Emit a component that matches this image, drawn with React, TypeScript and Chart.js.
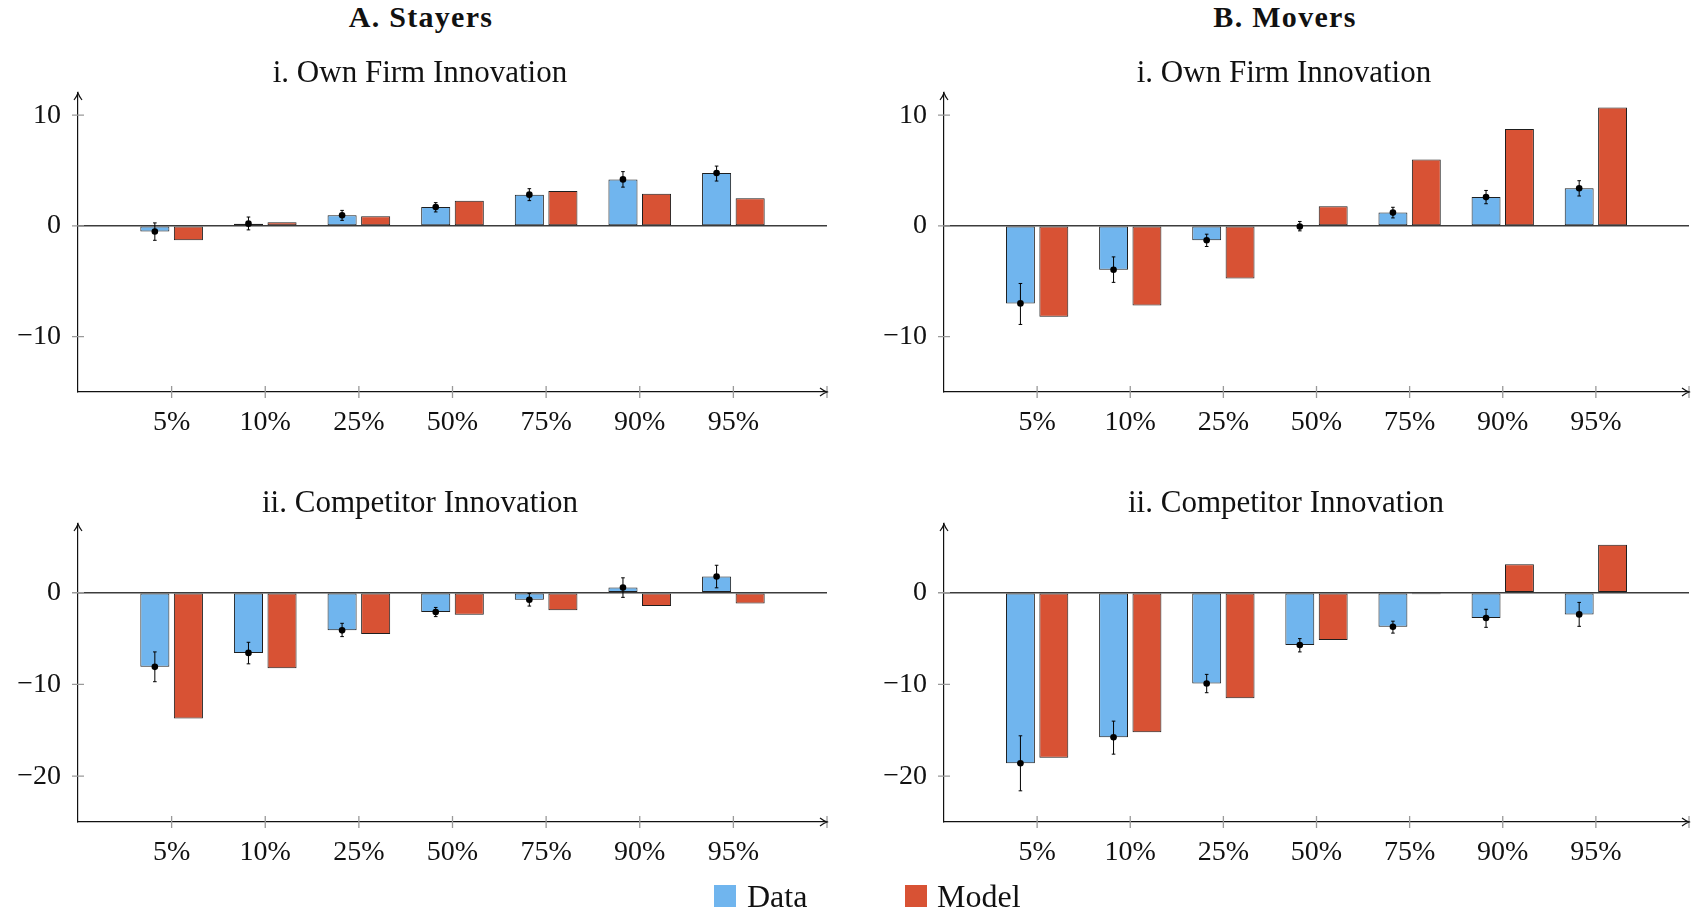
import React, { useEffect, useRef } from "react";
import { Chart, registerables } from "chart.js";

Chart.register(...registerables);

// ---------- data ----------
const CATEGORIES = ["5%", "10%", "25%", "50%", "75%", "90%", "95%"];

const stayersOwnData = [-0.5, 0.2, 0.96, 1.7, 2.82, 4.2, 4.77];
const stayersOwnModel = [-1.3, 0.33, 0.87, 2.28, 3.15, 2.9, 2.5];
const stayersOwnLo = [-1.3, -0.36, 0.5, 1.26, 2.28, 3.5, 4.05];
const stayersOwnHi = [0.27, 0.8, 1.4, 2.1, 3.36, 4.9, 5.4];

const moversOwnData = [-7.0, -3.96, -1.3, -0.05, 1.2, 2.6, 3.4];
const moversOwnModel = [-8.2, -7.2, -4.74, 1.77, 6.0, 8.74, 10.7];
const moversOwnLo = [-8.9, -5.1, -1.86, -0.45, 0.72, 2.0, 2.7];
const moversOwnHi = [-5.2, -2.8, -0.75, 0.4, 1.68, 3.2, 4.08];

const stayersCompData = [-8.08, -6.56, -4.1, -2.1, -0.76, 0.58, 1.78];
const stayersCompModel = [-13.7, -8.22, -4.5, -2.4, -1.92, -1.45, -1.16];
const stayersCompLo = [-9.7, -7.75, -4.78, -2.6, -1.45, -0.5, 0.54];
const stayersCompHi = [-6.45, -5.4, -3.33, -1.6, -0.07, 1.63, 3.0];

const moversCompData = [-18.6, -15.76, -9.9, -5.7, -3.7, -2.75, -2.36];
const moversCompModel = [-18.0, -15.2, -11.5, -5.14, -0.15, 3.1, 5.25];
const moversCompLo = [-21.6, -17.6, -10.9, -6.45, -4.4, -3.77, -3.66];
const moversCompHi = [-15.6, -14.0, -8.9, -5.0, -3.1, -1.8, -1.05];

const OWN_Y_RANGE = [-15, 12];
const COMP_Y_RANGE = [-25, 7.5];

// ---------- styles ----------
const SERIF = "'Liberation Serif', 'Times New Roman', serif";
const BLUE = "#70B5EE";
const RED = "#D85234";
const BAR_EDGE = "#1e1e1e";

const AXIS_LABELS = ["", ...CATEGORIES, ""];
const pad = (a: number[]) => [null, ...a, null];

function makeErrorBars(lo: number[], hi: number[], vals: number[]) {
  return {
    id: "errorbars",
    afterDatasetsDraw(chart: any) {
      const meta = chart.getDatasetMeta(0);
      const ys = chart.scales.y;
      const ctx = chart.ctx;
      ctx.save();
      ctx.strokeStyle = "#000";
      ctx.fillStyle = "#000";
      ctx.lineWidth = 1;
      meta.data.forEach((el: any, i: number) => {
        const k = i - 1;
        if (k < 0 || k >= vals.length) return;
        const x = el.x;
        const yl = ys.getPixelForValue(lo[k]);
        const yh = ys.getPixelForValue(hi[k]);
        const yv = ys.getPixelForValue(vals[k]);
        ctx.beginPath();
        ctx.moveTo(x, yl);
        ctx.lineTo(x, yh);
        ctx.moveTo(x - 1.8, yl);
        ctx.lineTo(x + 1.8, yl);
        ctx.moveTo(x - 1.8, yh);
        ctx.lineTo(x + 1.8, yh);
        ctx.stroke();
        ctx.beginPath();
        ctx.arc(x, yv, 3.3, 0, Math.PI * 2);
        ctx.fill();
      });
      ctx.restore();
    },
  };
}

const axisDecor = {
  id: "axisdecor",
  afterDraw(chart: any) {
    const { ctx, chartArea } = chart;
    const xs = chart.scales.x;
    const ys = chart.scales.y;
    const L = chartArea.left;
    const B = chartArea.bottom;
    ctx.save();
    ctx.strokeStyle = "#9a9a9a";
    ctx.lineWidth = 1.3;
    ctx.beginPath();
    ys.ticks.forEach((t: any) => {
      const y = ys.getPixelForValue(t.value);
      ctx.moveTo(L - 6, y);
      ctx.lineTo(L + 6, y);
    });
    for (let i = 1; i < AXIS_LABELS.length; i++) {
      const x = xs.getPixelForValue(i);
      ctx.moveTo(x, B - 6);
      ctx.lineTo(x, B + 6);
    }
    ctx.stroke();
    // arrow heads
    ctx.strokeStyle = "#111";
    ctx.lineWidth = 1.2;
    ctx.beginPath();
    const T = chartArea.top;
    ctx.moveTo(L - 4, T + 7);
    ctx.quadraticCurveTo(L - 1, T + 3, L, T);
    ctx.quadraticCurveTo(L + 1, T + 3, L + 4, T + 7);
    const R = chartArea.right;
    ctx.moveTo(R - 7, B - 4);
    ctx.quadraticCurveTo(R - 3, B - 1, R, B);
    ctx.quadraticCurveTo(R - 3, B + 1, R - 7, B + 4);
    ctx.stroke();
    ctx.restore();
  },
};

type PanelProps = {
  left: number;
  top: number;
  width: number;
  height: number;
  yWidth: number;
  padRight: number;
  yRange: number[];
  data: number[];
  model: number[];
  lo: number[];
  hi: number[];
};

const PAD_TOP = 36;

function Panel(p: PanelProps) {
  const ref = useRef<HTMLCanvasElement | null>(null);
  useEffect(() => {
    if (!ref.current) return;
    const tickFont = { family: SERIF, size: 28 };
    const chart = new Chart(ref.current, {
      type: "bar",
      data: {
        labels: AXIS_LABELS,
        datasets: [
          {
            label: "Data",
            data: pad(p.data) as any,
            backgroundColor: BLUE,
            borderColor: BAR_EDGE,
            borderWidth: 1,
            borderSkipped: false,
            categoryPercentage: 0.717,
            barPercentage: 0.866,
          },
          {
            label: "Model",
            data: pad(p.model) as any,
            backgroundColor: RED,
            borderColor: BAR_EDGE,
            borderWidth: 1,
            borderSkipped: false,
            categoryPercentage: 0.717,
            barPercentage: 0.866,
          },
        ],
      },
      options: {
        responsive: false,
        animation: false,
        layout: {
          padding: { top: PAD_TOP, right: p.padRight, left: 0, bottom: 0 },
        },
        plugins: {
          legend: { display: false },
          tooltip: { enabled: false },
          title: { display: false },
        },
        scales: {
          x: {
            type: "category",
            offset: false,
            grid: { display: true, color: "rgba(0,0,0,0)", drawTicks: false },
            border: { display: true, color: "#111", width: 1.2 },
            ticks: {
              autoSkip: false,
              maxRotation: 0,
              padding: 14,
              color: "#111",
              font: tickFont,
            },
            afterFit: (s: any) => {
              s.height = 68;
            },
          },
          y: {
            min: p.yRange[0],
            max: p.yRange[1],
            grid: {
              drawTicks: false,
              color: (c: any) =>
                c.tick && c.tick.value === 0 ? "#3c3c3c" : "rgba(0,0,0,0)",
              lineWidth: 1.4,
            },
            border: { display: true, color: "#111", width: 1.2 },
            ticks: {
              stepSize: 10,
              includeBounds: false,
              padding: 17,
              color: "#111",
              font: tickFont,
              callback: (v: any) => String(v).replace("-", "\u2212"),
            },
            afterFit: (s: any) => {
              s.width = p.yWidth;
            },
          },
        },
      } as any,
      plugins: [makeErrorBars(p.lo, p.hi, p.data), axisDecor],
    });
    return () => chart.destroy();
  }, []);
  return (
    <canvas
      ref={ref}
      width={p.width}
      height={p.height}
      style={{
        position: "absolute",
        left: p.left,
        top: p.top,
        width: p.width,
        height: p.height,
      }}
    />
  );
}

function Text(props: {
  cx: number;
  top: number;
  size: number;
  bold?: boolean;
  spacing?: number;
  children: React.ReactNode;
}) {
  return (
    <div
      style={{
        position: "absolute",
        left: props.cx - 300,
        width: 600,
        top: props.top,
        textAlign: "center",
        fontFamily: SERIF,
        fontSize: props.size,
        lineHeight: props.size + "px",
        fontWeight: props.bold ? "bold" : "normal",
        letterSpacing: props.spacing ? props.spacing + "px" : undefined,
        color: "#111",
        whiteSpace: "nowrap",
        zIndex: 2,
      }}
    >
      {props.children}
    </div>
  );
}

export default function App() {
  return (
    <div
      style={{
        position: "absolute",
        left: 0,
        top: 0,
        width: 1703,
        height: 913,
        overflow: "hidden",
        background: "#fff",
      }}
    >
      <Text cx={421} top={2} size={30} bold spacing={1.3}>
        A. Stayers
      </Text>
      <Text cx={1285} top={2} size={30} bold spacing={1.3}>
        B. Movers
      </Text>
      <Text cx={420} top={56} size={31}>
        i. Own Firm Innovation
      </Text>
      <Text cx={1284} top={56} size={31}>
        i. Own Firm Innovation
      </Text>
      <Text cx={420} top={486} size={31}>
        ii. Competitor Innovation
      </Text>
      <Text cx={1286} top={486} size={31}>
        ii. Competitor Innovation
      </Text>

      <Panel
        left={0}
        top={93 - PAD_TOP}
        width={850}
        height={460 - (93 - PAD_TOP)}
        yWidth={78}
        padRight={23}
        yRange={OWN_Y_RANGE}
        data={stayersOwnData}
        model={stayersOwnModel}
        lo={stayersOwnLo}
        hi={stayersOwnHi}
      />
      <Panel
        left={864}
        top={93 - PAD_TOP}
        width={839}
        height={460 - (93 - PAD_TOP)}
        yWidth={80}
        padRight={5}
        yRange={OWN_Y_RANGE}
        data={moversOwnData}
        model={moversOwnModel}
        lo={moversOwnLo}
        hi={moversOwnHi}
      />
      <Panel
        left={0}
        top={524 - PAD_TOP}
        width={850}
        height={890 - (524 - PAD_TOP)}
        yWidth={78}
        padRight={23}
        yRange={COMP_Y_RANGE}
        data={stayersCompData}
        model={stayersCompModel}
        lo={stayersCompLo}
        hi={stayersCompHi}
      />
      <Panel
        left={864}
        top={524 - PAD_TOP}
        width={839}
        height={890 - (524 - PAD_TOP)}
        yWidth={80}
        padRight={5}
        yRange={COMP_Y_RANGE}
        data={moversCompData}
        model={moversCompModel}
        lo={moversCompLo}
        hi={moversCompHi}
      />

      <div
        style={{
          position: "absolute",
          left: 714,
          top: 885,
          width: 22,
          height: 22,
          background: BLUE,
          zIndex: 2,
        }}
      />
      <div
        style={{
          position: "absolute",
          left: 747,
          top: 880,
          fontFamily: SERIF,
          fontSize: 32,
          lineHeight: "32px",
          color: "#111",
          zIndex: 2,
        }}
      >
        Data
      </div>
      <div
        style={{
          position: "absolute",
          left: 905,
          top: 885,
          width: 22,
          height: 22,
          background: RED,
          zIndex: 2,
        }}
      />
      <div
        style={{
          position: "absolute",
          left: 937,
          top: 880,
          fontFamily: SERIF,
          fontSize: 32,
          lineHeight: "32px",
          color: "#111",
          zIndex: 2,
        }}
      >
        Model
      </div>
    </div>
  );
}
